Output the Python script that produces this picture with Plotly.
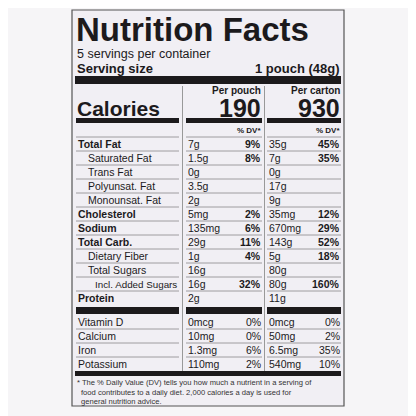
import plotly.graph_objects as go

labels = ["Total Fat", "Saturated Fat", "Trans Fat", "Polyunsat. Fat", "Monounsat. Fat",
          "Cholesterol", "Sodium", "Total Carb.", "Dietary Fiber", "Total Sugars",
          "Incl. Added Sugars", "Protein"]
indent = [0, 1, 1, 1, 1, 0, 0, 0, 1, 1, 2, 0]
pouch_amt = ["7g", "1.5g", "0g", "3.5g", "2g", "5mg", "135mg", "29g", "1g", "16g", "16g", "2g"]
pouch_dv = ["9%", "8%", "", "", "", "2%", "6%", "11%", "4%", "", "32%", ""]
carton_amt = ["35g", "7g", "0g", "17g", "9g", "35mg", "670mg", "143g", "5g", "80g", "80g", "11g"]
carton_dv = ["45%", "35%", "", "", "", "12%", "29%", "52%", "18%", "", "160%", ""]

vit_labels = ["Vitamin D", "Calcium", "Iron", "Potassium"]
vit_pouch_amt = ["0mcg", "10mg", "1.3mg", "110mg"]
vit_pouch_dv = ["0%", "0%", "6%", "2%"]
vit_carton_amt = ["0mcg", "50mg", "6.5mg", "540mg"]
vit_carton_dv = ["0%", "2%", "35%", "10%"]

calories = ["190", "930"]
col_heads = ["Per pouch", "Per carton"]

F = "Liberation Sans, Arial, sans-serif"
INK = "#1c1a1c"
ann, shp = [], []

def T(x, y, s, size, bold=False, anchor="left", color=INK):
    ann.append(dict(x=x, y=y, xref="x", yref="y", text=f"<b>{s}</b>" if bold else s,
                    showarrow=False, xanchor=anchor, yanchor="middle", borderpad=0,
                    font=dict(family=F, size=size, color=color)))

def R(x0, y0, x1, y1, fill=INK, line=None):
    shp.append(dict(type="rect", xref="x", yref="y", x0=x0, y0=y0, x1=x1, y1=y1,
                    fillcolor=fill, line=dict(width=0) if line is None else line, layer="above"))

def L(x0, y0, x1, y1, w=0.8, c="#8a888c"):
    shp.append(dict(type="line", xref="x", yref="y", x0=x0, y0=y0, x1=x1, y1=y1,
                    line=dict(color=c, width=w), layer="above"))

# label box
R(72, 10, 344, 406, fill="#f1eff4", line=dict(color="#555", width=1.2))
T(75, 29, "Nutrition Facts", 33, True)
T(76, 54, "5 servings per container", 12.5)
T(76, 68, "Serving size", 13, True)
T(341, 68, "1 pouch (48g)", 13, True, "right")
R(75, 76, 341, 84)

cols = [(186, 262), (267, 341)]
for i, (a, b) in enumerate(cols):
    T(b, 90, col_heads[i], 10, True, "right")
    T(b, 108, calories[i], 25, True, "right")
    R(a, 118, b, 123)
    T(b, 130, "% DV*", 8, True, "right")
R(76, 118, 179, 123)
T(76, 108, "Calories", 21, True)
L(182.5, 86, 182.5, 376, 1, "#999")
L(264.5, 86, 264.5, 376, 1, "#999")

y0 = 144
for i, lab in enumerate(labels):
    y = y0 + 14 * i
    bold = indent[i] == 0
    T(77 + [0, 10, 17][indent[i]], y, lab, 9.8 if indent[i] == 2 else 10.5, bold)
    T(187, y, pouch_amt[i], 10.5)
    T(262, y, pouch_dv[i], 10.5, True, "right")
    T(268, y, carton_amt[i], 10.5)
    T(341, y, carton_dv[i], 10.5, True, "right")
    ly = y - 7
    L(76, ly, 179, ly); L(186, ly, 262, ly); L(267, ly, 341, ly)

R(76, 307, 179, 314); R(186, 307, 262, 314); R(267, 307, 341, 314)
for i, lab in enumerate(vit_labels):
    y = 322 + 14 * i
    T(77, y, lab, 10.5)
    T(187, y, vit_pouch_amt[i], 10.5)
    T(262, y, vit_pouch_dv[i], 10.5, anchor="right")
    T(268, y, vit_carton_amt[i], 10.5)
    T(341, y, vit_carton_dv[i], 10.5, anchor="right")
    if i:
        L(76, y - 7, 179, y - 7); L(186, y - 7, 262, y - 7); L(267, y - 7, 341, y - 7)
R(75, 371, 341, 376)
T(76, 382, "* The % Daily Value (DV) tells you how much a nutrient in a serving of", 7.6, color="#333")
T(80, 392, "food contributes to a daily diet. 2,000 calories a day is used for", 7.6, color="#333")
T(80, 401, "general nutrition advice.", 7.6, color="#333")

fig = go.Figure()
fig.update_layout(width=416, height=416, margin=dict(l=0, r=0, t=0, b=0),
                  paper_bgcolor="#f6f5f7", plot_bgcolor="#f6f5f7",
                  xaxis=dict(range=[8, 424], visible=False, fixedrange=True),
                  yaxis=dict(range=[424, 8], visible=False, fixedrange=True),
                  annotations=ann, shapes=shp, showlegend=False)
fig.write_html("out.html")
